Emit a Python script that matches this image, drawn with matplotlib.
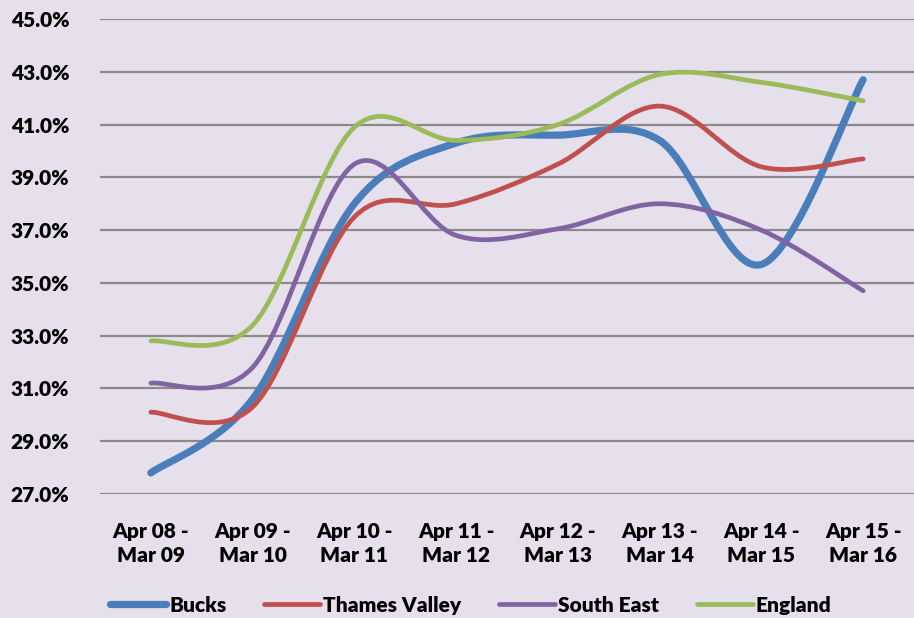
import matplotlib
matplotlib.use("Agg")
import matplotlib.pyplot as plt
from matplotlib.path import Path
from matplotlib.patches import PathPatch
from matplotlib.lines import Line2D
from matplotlib.ticker import FuncFormatter, FixedLocator

plt.rcParams['font.family'] = ['Lato', 'DejaVu Sans']

categories = ["Apr 08 -\nMar 09", "Apr 09 -\nMar 10", "Apr 10 -\nMar 11", "Apr 11 -\nMar 12",
              "Apr 12 -\nMar 13", "Apr 13 -\nMar 14", "Apr 14 -\nMar 15", "Apr 15 -\nMar 16"]
y_ticks = [27, 29, 31, 33, 35, 37, 39, 41, 43, 45]
bucks = [27.8, 30.6, 38.0, 40.3, 40.6, 40.4, 35.7, 42.7]
thames_valley = [30.1, 30.3, 37.5, 38.0, 39.5, 41.7, 39.4, 39.7]
south_east = [31.2, 31.8, 39.5, 36.8, 37.05, 38.0, 37.0, 34.7]
england = [32.8, 33.4, 40.9, 40.4, 41.0, 42.9, 42.6, 41.9]

series = [
    ("Bucks", bucks, "#4A7EBB", 5.2),
    ("Thames Valley", thames_valley, "#C0504D", 3.4),
    ("South East", south_east, "#8064A2", 3.4),
    ("England", england, "#9BBB59", 3.4),
]

BG = "#E5E0EC"
FW = 'heavy'


def smooth_path(xs, ys):
    n = len(xs)
    pts = list(zip(xs, ys))
    verts = [pts[0]]
    codes = [Path.MOVETO]
    for i in range(n - 1):
        p_prev = pts[i - 1] if i > 0 else pts[i]
        p0 = pts[i]
        p1 = pts[i + 1]
        p_next = pts[i + 2] if i + 2 < n else pts[i + 1]
        c1 = (p0[0] + (p1[0] - p_prev[0]) / 6.0, p0[1] + (p1[1] - p_prev[1]) / 6.0)
        c2 = (p1[0] - (p_next[0] - p0[0]) / 6.0, p1[1] - (p_next[1] - p0[1]) / 6.0)
        verts += [c1, c2, p1]
        codes += [Path.CURVE4] * 3
    return Path(verts, codes)


fig = plt.figure(figsize=(9.14, 6.18), dpi=100, facecolor=BG)
ax = fig.add_axes([0.1094, 0.2006, 0.8906, 0.7686])
ax.set_facecolor(BG)

x = list(range(len(categories)))
handles = []
for z, (name, vals, col, lw) in enumerate(series):
    p = smooth_path(x, vals)
    patch = PathPatch(p, fill=False, edgecolor=col, linewidth=lw,
                      capstyle='round', joinstyle='round', zorder=3 + z)
    ax.add_patch(patch)
    handles.append(Line2D([], [], color=col, linewidth=lw, solid_capstyle='round', label=name))

ax.set_xlim(-0.5, len(categories) - 0.5)
ax.set_ylim(y_ticks[0], y_ticks[-1])
ax.yaxis.set_major_locator(FixedLocator(y_ticks))
ax.yaxis.set_major_formatter(FuncFormatter(lambda v, p: f"{v:.1f}%"))
ax.set_xticks(x)
ax.set_xticklabels(categories, fontsize=15, fontweight=FW, linespacing=1.35)
for lab in ax.get_yticklabels():
    lab.set_fontsize(15)
    lab.set_fontweight(FW)
ax.tick_params(axis='both', length=0)
ax.tick_params(axis='y', pad=22)
ax.tick_params(axis='x', pad=20)
ax.grid(axis='y', color='#8A8A8A', linewidth=1.6, zorder=1)
ax.set_axisbelow(True)
for s in ax.spines.values():
    s.set_visible(False)

leg = fig.legend(handles=handles, loc='center', bbox_to_anchor=(0.515, 0.021), ncol=4,
                 frameon=False, handlelength=2.7, handletextpad=0.15, columnspacing=1.8,
                 prop={'size': 15, 'weight': FW})

fig.savefig("out.png", dpi=100, facecolor=BG)
